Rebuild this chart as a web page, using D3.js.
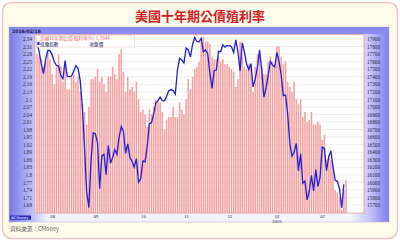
<!DOCTYPE html>
<html>
<head>
<meta charset="utf-8">
<script src="https://cdn.jsdelivr.net/npm/d3@7"></script>
<style>
  body { margin: 0; background: #fff; }
  svg { display: block; }
</style>
</head>
<body>
<script>
// 美國10年期公債殖利率 (bars, left axis) — one value per trading day
const yieldVals = [
  2.28, 2.27, 2.26, 2.23, 2.25, 2.29, 2.26, 2.20,
  2.16, 2.23, 2.28, 2.23, 2.17, 2.24, 2.14, 2.14, 2.19, 2.20, 2.17, 2.19, 2.13, 2.08, 2.05, 2.00, 2.07, 2.18, 2.18, 2.19, 2.22,
  2.17, 2.19, 2.16, 2.13, 2.19, 2.19, 2.23, 2.20, 2.18, 2.28, 2.30, 2.21, 2.13, 2.19, 2.14, 2.15, 2.13, 2.17, 2.10, 2.05, 2.06,
  2.04, 1.99, 2.06, 2.04, 2.07, 2.10, 2.09, 2.09, 2.05, 1.98, 2.02, 2.03, 2.03, 2.07, 2.03, 2.03, 2.09, 2.06, 2.04, 2.10, 2.18, 2.14,
  2.19, 2.22, 2.23, 2.25, 2.33, 2.35, 2.33, 2.33, 2.32, 2.27, 2.26, 2.26, 2.27, 2.25, 2.26, 2.24, 2.24, 2.23, 2.22, 2.21,
  2.15, 2.18, 2.33, 2.27, 2.23, 2.22, 2.24, 2.24, 2.13, 2.23, 2.28, 2.30, 2.23, 2.20, 2.20, 2.25, 2.27, 2.25, 2.24, 2.31, 2.31, 2.27,
  2.24, 2.25, 2.17, 2.15, 2.13, 2.17, 2.10, 2.08, 2.10, 2.03, 2.05, 2.01, 2.02, 2.05, 2.00, 2.00, 2.01, 2.00, 1.94,
  1.96, 1.86, 1.88, 1.86, 1.84, 1.74, 1.73, 1.71, 1.66, 1.74, 1.78
];

// 道瓊指數 收盤價 (line, right axis)
const dowVals = [
  17851, 17731, 17568, 17440, 17630, 17751, 17746, 17690,
  17598, 17550, 17541, 17419, 17373, 17615, 17403, 17402, 17409, 17477, 17546, 17512, 17349, 16991, 16460, 15871, 15666, 16285, 16655, 16643, 16528,
  15916, 16351, 16374, 16102, 16492, 16253, 16330, 16433, 16370, 16599, 16740, 16674, 16385, 16511, 16330, 16280, 16201, 16315, 16001, 16049, 16285,
  16272, 16472, 16777, 16790, 16912, 17050, 17084, 17131, 17082, 17081, 17142, 17216, 17230, 17217, 17168, 17489, 17646, 17623, 17581, 17780, 17755, 17663,
  17828, 17918, 17867, 17863, 17910, 17730, 17758, 17702, 17448, 17245, 17483, 17489, 17737, 17732, 17823, 17792, 17812, 17813, 17798, 17720,
  17888, 17730, 17478, 17848, 17730, 17568, 17493, 17575, 17265, 17369, 17525, 17750, 17495, 17128, 17252, 17418, 17603, 17553, 17528, 17721, 17604, 17425,
  17149, 17158, 16907, 16515, 16347, 16399, 16516, 16152, 16380, 15988, 16016, 15767, 15882, 16094, 15886, 16168, 15944, 16070, 16466,
  16449, 16154, 16337, 16417, 16205, 16027, 16014, 15915, 15660, 15974
];

const leftTicks = [2.34, 2.31, 2.28, 2.25, 2.22, 2.19, 2.16, 2.13, 2.1, 2.07, 2.04, 2.01,
                   1.98, 1.95, 1.92, 1.89, 1.86, 1.83, 1.8, 1.77, 1.74, 1.71, 1.68];
const rightTicks = [17900, 17800, 17700, 17600, 17500, 17400, 17300, 17200, 17100, 17000, 16900, 16800,
                    16700, 16600, 16500, 16400, 16300, 16200, 16100, 16000, 15900, 15800, 15700];
const monthLabels = ["08", "09", "10", "11", "12", "01", "02"];
const monthIdx = [7, 27, 49, 69, 89, 111, 132];

const W = 400, H = 241;
const plot = { left: 35, right: 364, top: 34.5, bottom: 213 };

const svg = d3.select("body").append("svg")
  .attr("width", W)
  .attr("height", H);

const defs = svg.append("defs");
const grad = defs.append("linearGradient").attr("id", "panelGrad")
  .attr("x1", "0%").attr("x2", "100%").attr("y1", "0%").attr("y2", "0%");
[[0, "#7676ea"], [0.07, "#c9c9f7"], [0.1, "#f2f2fd"], [0.9, "#f4f4fd"], [0.95, "#c4c4f6"], [1, "#7c7cec"]]
  .forEach(s => grad.append("stop").attr("offset", s[0]).attr("stop-color", s[1]));

// outer card
svg.append("rect")
  .attr("x", 2.5).attr("y", 2.5).attr("width", W - 5).attr("height", H - 5)
  .attr("rx", 9)
  .attr("fill", "#fffcec")
  .attr("stroke", "#f3c3c3")
  .attr("stroke-width", 1.5);

svg.append("text")
  .attr("x", 200).attr("y", 20.5)
  .attr("text-anchor", "middle")
  .attr("font-family", "Noto Sans CJK TC")
  .attr("font-weight", "bold")
  .attr("font-size", 13)
  .attr("fill", "#d41f26")
  .text("美國十年期公債殖利率");

// chart panel
svg.append("rect")
  .attr("x", 9).attr("y", 27).attr("width", 380).attr("height", 195)
  .attr("fill", "url(#panelGrad)")
  .attr("stroke", "#b9b9d9")
  .attr("stroke-width", 0.6);
svg.append("rect")
  .attr("x", 9).attr("y", 27).attr("width", 380).attr("height", 7)
  .attr("fill", "#8a8af2");

svg.append("text")
  .attr("x", 12).attr("y", 32.5)
  .attr("font-family", "DejaVu Sans")
  .attr("font-weight", "bold")
  .attr("font-size", 4.6)
  .attr("fill", "#1c1c50")
  .text("2016/02/16");

// scales
const x = d3.scaleLinear().domain([0, yieldVals.length - 1]).range([37, 346]);
const yL = d3.scaleLinear().domain([1.68, 2.34]).range([205, 39]);
const yR = d3.scaleLinear().domain([15700, 17900]).range([205, 39]);

// plot area
svg.append("rect")
  .attr("x", plot.left).attr("y", plot.top)
  .attr("width", plot.right - plot.left).attr("height", plot.bottom - plot.top)
  .attr("fill", "#fff");

svg.append("g")
  .selectAll("line")
  .data(leftTicks)
  .join("line")
  .attr("x1", plot.left).attr("x2", plot.right)
  .attr("y1", d => yL(d)).attr("y2", d => yL(d))
  .attr("stroke", "#e2e2e2")
  .attr("stroke-width", 0.6);

// bars
const barW = 1.55;
svg.append("g")
  .selectAll("rect")
  .data(yieldVals)
  .join("rect")
  .attr("x", (d, i) => x(i) - barW / 2)
  .attr("y", d => yL(d))
  .attr("width", barW)
  .attr("height", d => plot.bottom - yL(d))
  .attr("fill", "#f3a1a1");

// line
svg.append("path")
  .datum(dowVals)
  .attr("d", d3.line().x((d, i) => x(i)).y(d => yR(d)))
  .attr("fill", "none")
  .attr("stroke", "#1f1fd6")
  .attr("stroke-width", 1.3);

// plot border
svg.append("rect")
  .attr("x", plot.left).attr("y", plot.top)
  .attr("width", plot.right - plot.left).attr("height", plot.bottom - plot.top)
  .attr("fill", "none")
  .attr("stroke", "#e39a9a")
  .attr("stroke-width", 0.8);

// axes
const axisL = d3.axisLeft(yL).tickValues(leftTicks).tickSize(0).tickPadding(2)
  .tickFormat(d3.format(""));
const axisR = d3.axisRight(yR).tickValues(rightTicks).tickSize(0).tickPadding(2)
  .tickFormat(d3.format("d"));
const axisB = d3.axisBottom(x).tickValues(monthIdx).tickSize(0).tickPadding(1.2)
  .tickFormat((d, i) => monthLabels[i]);

function styleAxis(g) {
  g.select(".domain").remove();
  g.selectAll("text")
    .attr("font-family", "Liberation Serif")
    .attr("font-size", 5.2)
    .attr("fill", "#25254a");
}

svg.append("g").attr("transform", `translate(${plot.left - 1},0)`).call(axisL).call(styleAxis);
svg.append("g").attr("transform", `translate(${plot.right + 1},0)`).call(axisR).call(styleAxis);
const xg = svg.append("g").attr("transform", `translate(0,${plot.bottom})`).call(axisB).call(styleAxis);
xg.selectAll(".tick text").attr("font-size", 4.8);
xg.append("text")
  .attr("x", x(monthIdx[5])).attr("y", 9.6)
  .attr("text-anchor", "middle")
  .attr("font-family", "Liberation Serif")
  .attr("font-size", 4.8)
  .attr("fill", "#25254a")
  .text("2016");

// legend box
const lg = svg.append("g").attr("transform", "translate(36.5,35.5)");
lg.append("rect")
  .attr("width", 98).attr("height", 11.5)
  .attr("fill", "#fff")
  .attr("stroke", "#e8c0c0")
  .attr("stroke-width", 0.5);
lg.append("text")
  .attr("x", 3.5).attr("y", 4.6)
  .attr("font-family", "Noto Sans CJK TC")
  .attr("font-size", 4.6)
  .attr("fill", "#e07070")
  .text("美國10年期公債 殖利率(%) 1.7844");
lg.append("rect")
  .attr("x", 0.8).attr("y", 6.4).attr("width", 2.2).attr("height", 3)
  .attr("fill", "#1f1fd6");
lg.append("text")
  .attr("x", 3.5).attr("y", 10)
  .attr("font-family", "Noto Sans CJK TC")
  .attr("font-size", 4.6)
  .attr("fill", "#1c1c60")
  .text("道瓊指數");
lg.append("text")
  .attr("x", 53).attr("y", 10)
  .attr("font-family", "Noto Sans CJK TC")
  .attr("font-size", 4.6)
  .attr("fill", "#1c1c60")
  .text("收盤價");

// CMoney badge
svg.append("rect")
  .attr("x", 10).attr("y", 215.5).attr("width", 21).attr("height", 4.2)
  .attr("fill", "#2323c8");
svg.append("text")
  .attr("x", 11).attr("y", 219)
  .attr("font-family", "DejaVu Sans")
  .attr("font-size", 3.6)
  .attr("fill", "#fff")
  .text("⊠CMoney");

svg.append("text")
  .attr("x", 10).attr("y", 231)
  .attr("font-family", "Noto Sans CJK TC")
  .attr("font-size", 5.6)
  .attr("fill", "#666")
  .text("資料來源：CMoney");
</script>
</body>
</html>
